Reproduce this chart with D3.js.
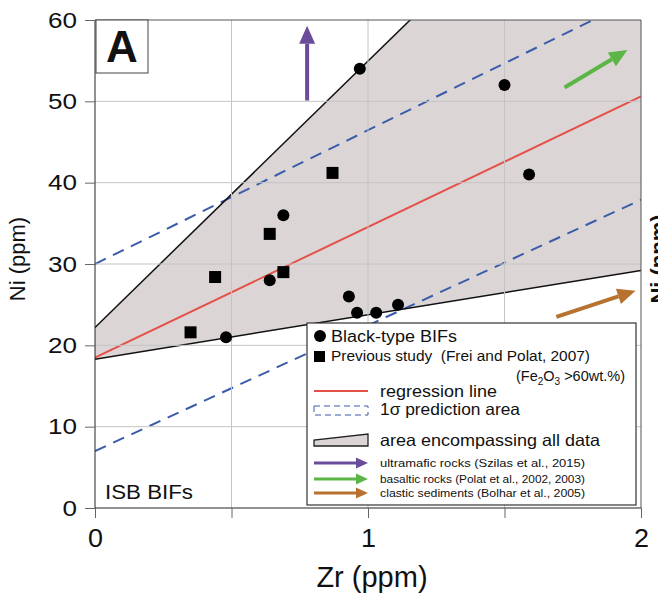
<!DOCTYPE html>
<html lang="en">
<head>
<script src="https://d3js.org/d3.v7.min.js"></script>
<style>
  body { margin: 0; background: #fff; font-family: Arial, 'Liberation Sans', sans-serif; }
  svg text { font-family: Arial, 'Liberation Sans', sans-serif; fill: #111; }
  .grid line { stroke: #c4c4c4; stroke-width: 1px; }
  .axis path { stroke: #222; stroke-width: 1px; }
  .axis line { stroke: #666; stroke-width: 1px; }
</style>
</head>
<body>
<script>
// data (Zr ppm, Ni ppm)
var blackTypeBIFs = [
  [0.48, 21], [0.64, 28], [0.69, 36], [0.97, 54], [0.93, 26],
  [0.96, 24], [1.03, 24], [1.11, 25], [1.50, 52], [1.59, 41]
];
var previousStudy = [
  [0.35, 21.6], [0.44, 28.4], [0.64, 33.7], [0.69, 29.0], [0.87, 41.2]
];
var regressionLine = [[0, 18.5], [2, 50.6]];
var predUpper = [[0, 30], [2, 62.9]];
var predLower = [[0, 7], [2, 37.9]];
var envelopeUpper = [[0, 22.2], [2, 87.7]];
var envelopeLower = [[0, 18.3], [2, 29.2]];
var arrowUltramafic = [[0.777, 50.1], [0.777, 59.3]];
var arrowBasaltic = [[1.72, 51.7], [1.95, 56.3]];
var arrowClastic = [[1.69, 23.5], [1.98, 26.7]];
var xTicks = [0, 0.5, 1, 1.5, 2];
var xTickLabels = {0: "0", 1: "1", 2: "2"};
var yTicks = [0, 10, 20, 30, 40, 50, 60];

var W = 658, H = 597;
var margin = {top: 20, right: 17, bottom: 89, left: 95};
var width = W - margin.left - margin.right;   // 546
var height = H - margin.top - margin.bottom;  // 488

var colors = {
  red: "#e5504a", blue: "#3b5cab", area: "#dbd6d5",
  purple: "#6b4c9a", green: "#5cb547", brown: "#b8722f"
};

var svg = d3.select("body").append("svg")
  .attr("width", W).attr("height", H);

svg.append("defs").append("clipPath").attr("id", "plotclip")
  .append("rect").attr("width", width).attr("height", height);

var g = svg.append("g")
  .attr("transform", "translate(" + margin.left + "," + margin.top + ")");

var x = d3.scaleLinear().domain([0, 2]).range([0, width]);
var y = d3.scaleLinear().domain([0, 60]).range([height, 0]);

var line = d3.line().x(function(d) { return x(d[0]); }).y(function(d) { return y(d[1]); });

var plot = g.append("g").attr("clip-path", "url(#plotclip)");

// area encompassing all data
var envelope = envelopeUpper.concat(envelopeLower.slice().reverse());
plot.append("path")
  .attr("d", line(envelope) + "Z")
  .attr("fill", colors.area);

// grid
g.append("g").attr("class", "grid")
  .selectAll("line").data([0.5, 1, 1.5]).enter().append("line")
  .attr("x1", function(d) { return x(d); }).attr("x2", function(d) { return x(d); })
  .attr("y1", 0).attr("y2", height);
g.append("g").attr("class", "grid")
  .selectAll("line").data([10, 20, 30, 40, 50]).enter().append("line")
  .attr("x1", 0).attr("x2", width)
  .attr("y1", function(d) { return y(d); }).attr("y2", function(d) { return y(d); });

// 1 sigma prediction lines
[predUpper, predLower].forEach(function(p) {
  plot.append("path").attr("d", line(p))
    .attr("fill", "none").attr("stroke", colors.blue)
    .attr("stroke-width", 2).attr("stroke-dasharray", "12,8");
});

// regression
plot.append("path").attr("d", line(regressionLine))
  .attr("fill", "none").attr("stroke", colors.red).attr("stroke-width", 2);

// envelope edges
[envelopeUpper, envelopeLower].forEach(function(p) {
  plot.append("path").attr("d", line(p))
    .attr("fill", "none").attr("stroke", "#111").attr("stroke-width", 1.5);
});

// points
g.selectAll(".bif").data(blackTypeBIFs).enter().append("circle")
  .attr("cx", function(d) { return x(d[0]); })
  .attr("cy", function(d) { return y(d[1]); })
  .attr("r", 6).attr("fill", "#000");
var sq = 12;
g.selectAll(".prev").data(previousStudy).enter().append("rect")
  .attr("x", function(d) { return x(d[0]) - sq / 2; })
  .attr("y", function(d) { return y(d[1]) - sq / 2; })
  .attr("width", sq).attr("height", sq).attr("fill", "#000");

// arrows
function arrow(sel, x1, y1, x2, y2, color, lw, headL, headW) {
  var ang = Math.atan2(y2 - y1, x2 - x1);
  var bx = x2 - headL * Math.cos(ang), by = y2 - headL * Math.sin(ang);
  sel.append("line").attr("x1", x1).attr("y1", y1).attr("x2", bx).attr("y2", by)
    .attr("stroke", color).attr("stroke-width", lw);
  var px = -Math.sin(ang) * headW / 2, py = Math.cos(ang) * headW / 2;
  sel.append("polygon")
    .attr("points", [[x2, y2], [bx + px, by + py], [bx - px, by - py]].join(" "))
    .attr("fill", color);
}
[[arrowUltramafic, colors.purple], [arrowBasaltic, colors.green], [arrowClastic, colors.brown]]
  .forEach(function(a) {
    var p = a[0];
    arrow(g, x(p[0][0]), y(p[0][1]), x(p[1][0]), y(p[1][1]), a[1], 4, 18, 16);
  });

// frame top/right
g.append("line").attr("x1", 0).attr("x2", width).attr("y1", 0).attr("y2", 0)
  .attr("stroke", "#555");
g.append("line").attr("x1", width).attr("x2", width).attr("y1", 0).attr("y2", height)
  .attr("stroke", "#555");

// axes
g.append("g").attr("class", "axis")
  .attr("transform", "translate(0," + height + ")")
  .call(d3.axisBottom(x).tickValues(xTicks).tickSize(10).tickPadding(11)
    .tickFormat(function(d) { return xTickLabels[d] || ""; }))
  .call(function(a) {
    a.select(".domain").attr("d", "M0,0H" + width);
    a.selectAll("text").style("font-size", "26px").attr("fill", "#111")
      .attr("textLength", function(d) { return xTickLabels[d] ? 15 : null; })
      .attr("lengthAdjust", "spacingAndGlyphs");
  });
g.append("g").attr("class", "axis")
  .call(d3.axisLeft(y).tickValues(yTicks).tickSize(10).tickPadding(8))
  .call(function(a) {
    a.select(".domain").attr("d", "M0," + height + "V0");
    a.selectAll("text").style("font-size", "22px").attr("fill", "#111")
      .attr("textLength", function(d) { return String(d).length * 14.5; })
      .attr("lengthAdjust", "spacingAndGlyphs");
  });

// axis titles
svg.append("text")
  .attr("x", 372).attr("y", 587)
  .attr("text-anchor", "middle").style("font-size", "29px")
  .text("Zr (ppm)");
svg.append("text")
  .attr("transform", "translate(25,259) rotate(-90)")
  .attr("text-anchor", "middle").style("font-size", "22px")
  .text("Ni (ppm)");
// neighbouring panel's label, cut at the edge
svg.append("text")
  .attr("transform", "translate(666,259) rotate(-90)")
  .attr("text-anchor", "middle").style("font-size", "22px").style("font-weight", "bold")
  .text("Ni (ppm)");

// panel letter
svg.append("rect").attr("x", 96).attr("y", 20).attr("width", 52).attr("height", 53)
  .attr("fill", "#fff").attr("stroke", "#444").attr("stroke-width", 1);
svg.append("text").attr("x", 122).attr("y", 62).attr("text-anchor", "middle")
  .style("font-size", "44px").style("font-weight", "bold").text("A");

svg.append("text").attr("x", 105).attr("y", 499)
  .style("font-size", "19.5px")
  .attr("textLength", 88).attr("lengthAdjust", "spacingAndGlyphs")
  .text("ISB BIFs");

// legend
var lg = svg.append("g");
function ltext(xp, yp, size, len, str) {
  return lg.append("text").attr("x", xp).attr("y", yp).style("font-size", size + "px")
    .attr("textLength", len).attr("lengthAdjust", "spacingAndGlyphs").text(str);
}
lg.append("rect").attr("x", 307).attr("y", 323).attr("width", 329).attr("height", 182)
  .attr("fill", "#fff").attr("stroke", "#333").attr("stroke-width", 1.2);
lg.append("circle").attr("cx", 320).attr("cy", 336).attr("r", 6).attr("fill", "#000");
ltext(331, 342, 16, 126, "Black-type BIFs");
lg.append("rect").attr("x", 314).attr("y", 351).attr("width", 11).attr("height", 11).attr("fill", "#000");
ltext(331, 361, 14, 259, "Previous study\u00a0 (Frei and Polat, 2007)");
var fe = lg.append("text").attr("x", 625).attr("y", 381).attr("text-anchor", "end")
  .style("font-size", "14.5px");
fe.append("tspan").text("(Fe");
fe.append("tspan").attr("dy", 4).style("font-size", "10px").text("2");
fe.append("tspan").attr("dy", -4).text("O");
fe.append("tspan").attr("dy", 4).style("font-size", "10px").text("3");
fe.append("tspan").attr("dy", -4).text(" >60wt.%)");

lg.append("line").attr("x1", 314).attr("x2", 368).attr("y1", 391).attr("y2", 391)
  .attr("stroke", colors.red).attr("stroke-width", 2);
ltext(380, 397, 16.5, 117, "regression line");
lg.append("rect").attr("x", 314).attr("y", 406).attr("width", 54).attr("height", 9)
  .attr("fill", "none").attr("stroke", colors.blue).attr("stroke-width", 1)
  .attr("stroke-dasharray", "6,4");
ltext(380, 415, 16.5, 140, "1\u03c3 prediction area");
lg.append("polygon").attr("points", "314,446 368,446 368,434 314,440")
  .attr("fill", colors.area).attr("stroke", "#222").attr("stroke-width", 1.3);
ltext(380, 446, 16.5, 220, "area encompassing all data");

var legArrows = [
  [colors.purple, "ultramafic rocks (Szilas et al., 2015)", 463],
  [colors.green, "basaltic rocks (Polat et al., 2002, 2003)", 479],
  [colors.brown, "clastic sediments (Bolhar et al., 2005)", 493]
];
legArrows.forEach(function(a) {
  arrow(lg, 314, a[2], 368, a[2], a[0], 3, 12, 11);
  ltext(380, a[2] + 4, 11.5, 205, a[1]);
});
</script>
</body>
</html>
